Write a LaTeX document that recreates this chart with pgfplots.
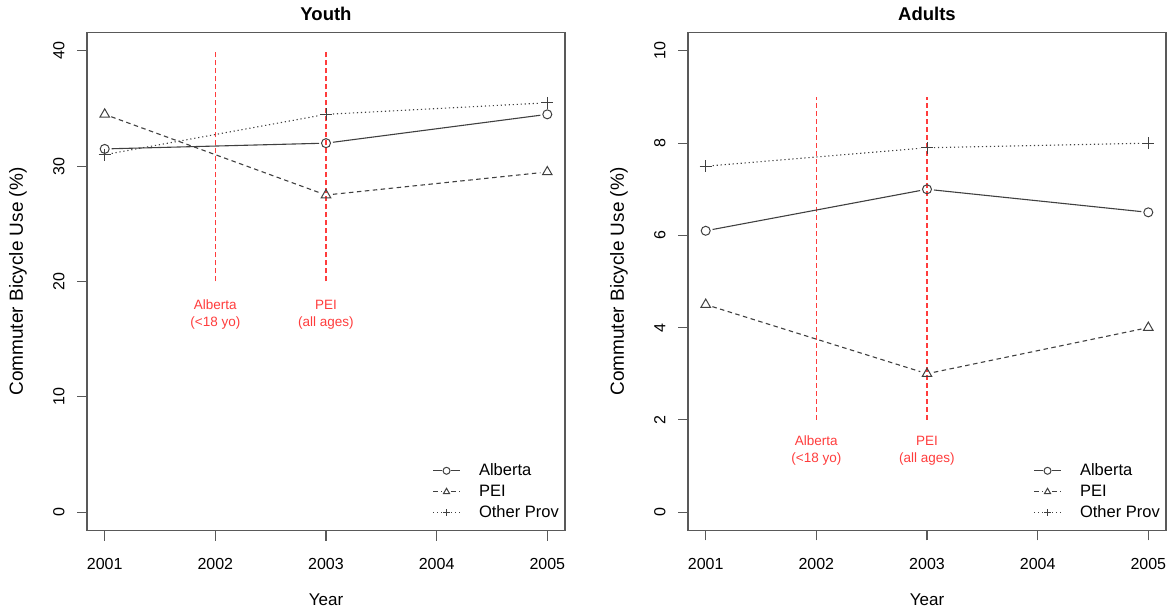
\documentclass[border=0pt]{standalone}
\usepackage{fontspec}
\setmainfont{Liberation Sans}
\usepackage{pgfplots}
\pgfplotsset{compat=1.18}
\definecolor{rline}{RGB}{255,60,60}
\definecolor{dk}{gray}{0.25}
\pgfplotsset{
  rstyle/.style={
    scale only axis, width=478pt, height=498pt,
    xmin=2000.84, xmax=2005.16,
    xtick={2001,2002,2003,2004,2005},
    xticklabels={2001,2002,2003,2004,2005},
    tick pos=left, tick align=outside, major tick length=10pt,
    axis line style={draw=black!65, line width=1.1pt},
    every tick/.style={black!65, line width=1.1pt},
    tick label style={font=\fontsize{16}{19}\selectfont},
    /pgf/number format/assume math mode=true,
    xticklabel style={yshift=-14pt},
    yticklabel style={xshift=-9pt, rotate=90, anchor=south},
    every axis x label/.style={at={([yshift=-69pt]axis description cs:0.5,0)}, anchor=center, font=\fontsize{17}{20}\selectfont},
    every axis y label/.style={at={([xshift=-69pt]axis description cs:0,0.5)}, rotate=90, anchor=center, font=\fontsize{19}{22}\selectfont},
    title style={at={(axis description cs:0.5,1)}, anchor=base, yshift=6pt, font=\bfseries\fontsize{18.5}{22}\selectfont},
    xlabel={Year}, ylabel={Commuter Bicycle Use (\%)},
    legend style={draw=none, fill=none, at={(axis description cs:1,0)}, anchor=south east, xshift=-4pt, yshift=8pt, inner sep=0pt,
      font=\fontsize{16.5}{19}\selectfont, row sep=2pt,
      nodes={inner sep=2pt, text height=12pt, text depth=3pt}},
    legend cell align=left,
    legend image code/.code={%
      \draw[##1] (0pt,0pt) -- (9pt,0pt);
      \draw[##1] (18pt,0pt) -- (27pt,0pt);
      \draw[##1, solid] plot[mark size=3.5pt] coordinates {(13.5pt,0pt)};
      \path[draw=none] (0pt,0pt) -- (44pt,0pt);},
    clip=false,
  },
  alb/.style={dk, line width=1.1pt, solid, mark=o, mark size=4.5pt, mark options={solid, line width=1pt}},
  pei/.style={dk, line width=1.1pt, dash pattern=on 4.5pt off 3.5pt, mark=triangle, mark size=5.5pt, mark options={solid, line width=1pt}},
  oth/.style={dk, line width=1.1pt, dash pattern=on 1.2pt off 2.8pt, mark=+, mark size=6pt, mark options={solid, line width=1pt}},
  seg/.style={mark=none, shorten <=7pt, shorten >=7pt, forget plot},
  pts/.style={only marks, forget plot},
  redv/.style={rline, line width=1.1pt, dash pattern=on 5pt off 3pt, forget plot, mark=none},
}
\begin{document}
\begin{tikzpicture}
\useasboundingbox (-87pt,-79.5pt) rectangle (1086pt,530.5pt);
\begin{axis}[rstyle, at={(0pt,0pt)}, anchor=south west,
  ymin=-1.6, ymax=41.6, ytick={0,10,20,30,40}, yticklabels={0,10,20,30,40},
  title={Youth}]
\addplot[redv] coordinates {(2002,20) (2002,40)};
\addplot[redv] coordinates {(2003,20) (2003,40)};
% Alberta
\addplot[alb, pts] coordinates {(2001,31.5) (2003,32.0) (2005,34.5)};
\addplot[alb, seg] coordinates {(2001,31.5) (2003,32.0)};
\addplot[alb, seg] coordinates {(2003,32.0) (2005,34.5)};
% PEI
\addplot[pei, pts] coordinates {(2001,34.5) (2003,27.5) (2005,29.5)};
\addplot[pei, seg] coordinates {(2001,34.5) (2003,27.5)};
\addplot[pei, seg] coordinates {(2003,27.5) (2005,29.5)};
% Other
\addplot[oth, pts] coordinates {(2001,31.0) (2003,34.5) (2005,35.5)};
\addplot[oth, seg] coordinates {(2001,31.0) (2003,34.5)};
\addplot[oth, seg] coordinates {(2003,34.5) (2005,35.5)};
\addlegendimage{alb}\addlegendentry{Alberta}
\addlegendimage{pei}\addlegendentry{PEI}
\addlegendimage{oth}\addlegendentry{Other Prov}
\node[rline, align=center, font=\fontsize{13.5}{17}\selectfont] at (axis cs:2002,17.1) {Alberta\\(<18 yo)};
\node[rline, align=center, font=\fontsize{13.5}{17}\selectfont] at (axis cs:2003,17.1) {PEI\\(all ages)};
\end{axis}
\begin{axis}[rstyle, at={(601pt,0pt)}, anchor=south west,
  ymin=-0.4, ymax=10.4, ytick={0,2,4,6,8,10}, yticklabels={0,2,4,6,8,10},
  title={Adults}]
\addplot[redv] coordinates {(2002,2) (2002,9)};
\addplot[redv] coordinates {(2003,2) (2003,9)};
% Alberta
\addplot[alb, pts] coordinates {(2001,6.1) (2003,7.0) (2005,6.5)};
\addplot[alb, seg] coordinates {(2001,6.1) (2003,7.0)};
\addplot[alb, seg] coordinates {(2003,7.0) (2005,6.5)};
% PEI
\addplot[pei, pts] coordinates {(2001,4.5) (2003,3.0) (2005,4.0)};
\addplot[pei, seg] coordinates {(2001,4.5) (2003,3.0)};
\addplot[pei, seg] coordinates {(2003,3.0) (2005,4.0)};
% Other
\addplot[oth, pts] coordinates {(2001,7.5) (2003,7.9) (2005,8.0)};
\addplot[oth, seg] coordinates {(2001,7.5) (2003,7.9)};
\addplot[oth, seg] coordinates {(2003,7.9) (2005,8.0)};
\addlegendimage{alb}\addlegendentry{Alberta}
\addlegendimage{pei}\addlegendentry{PEI}
\addlegendimage{oth}\addlegendentry{Other Prov}
\node[rline, align=center, font=\fontsize{13.5}{17}\selectfont] at (axis cs:2002,1.33) {Alberta\\(<18 yo)};
\node[rline, align=center, font=\fontsize{13.5}{17}\selectfont] at (axis cs:2003,1.33) {PEI\\(all ages)};
\end{axis}
\end{tikzpicture}
\end{document}
